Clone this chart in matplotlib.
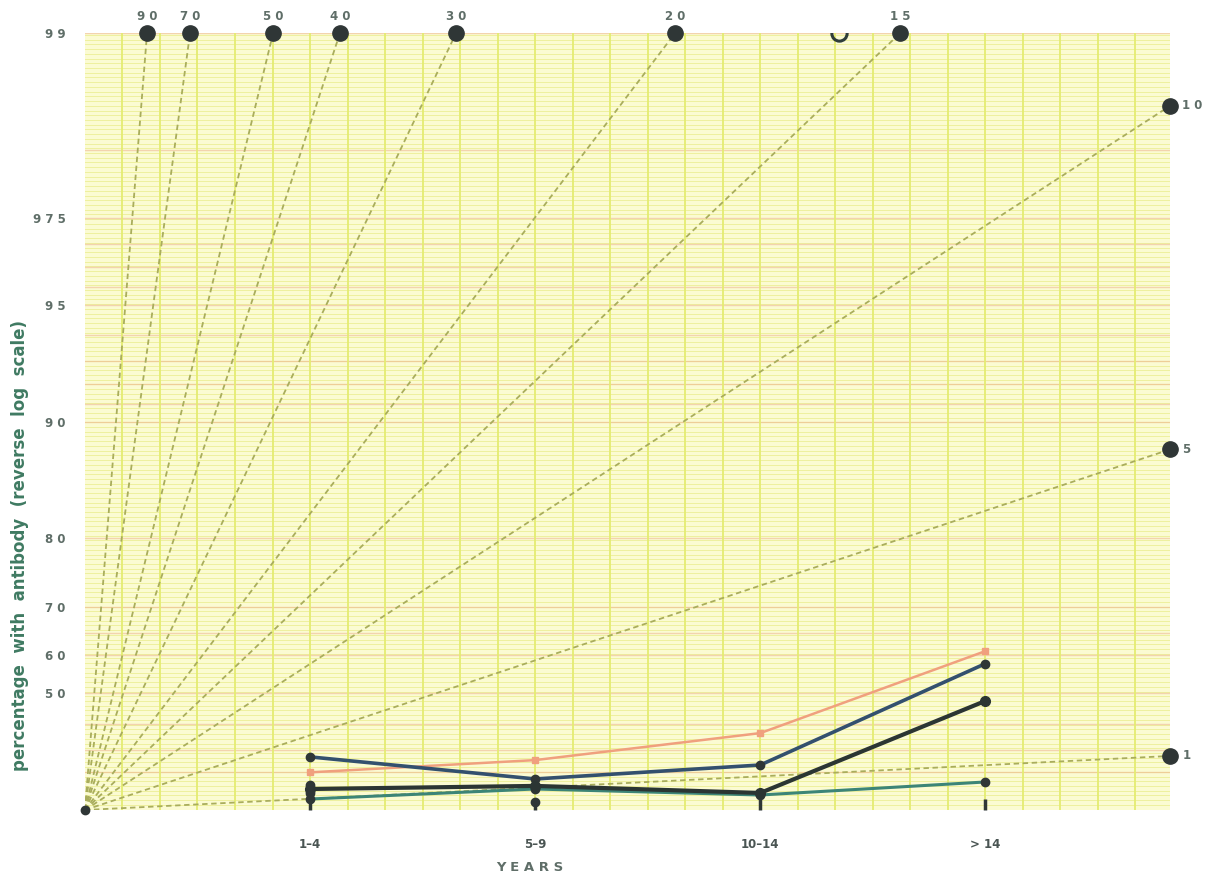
import numpy as np
import matplotlib
matplotlib.use("Agg")
import matplotlib.pyplot as plt

# ---- data (y in percent with antibody) ----
age_groups = ["1\u20134", "5\u20139", "10\u201314", "> 14"]
age_pos = [1, 2, 3, 4]

blue_pct = [27.0, 16.8, 23.4, 58.0]
orange_pct = [20.0, 25.6, 36.6, 61.0]
black_pct = [11.7, 13.3, 9.6, 47.6]
teal_pct = [6.3, 11.7, 8.5, 15.3]

# stray points without a line
extra_x = [1, 1, 2]
extra_pct = [13.8, 9.5, 4.6]

# reference lines of constant annual rate (end points)
top_rates = ["9 0", "7 0", "5 0", "4 0", "3 0", "2 0", "1 5"]
top_end_x = [0.276, 0.467, 0.836, 1.133, 1.649, 2.622, 3.622]
right_rates = ["1 0", "5", "1"]
right_end_pct = [98.46, 88.2, 27.4]

ytick_pct = [50, 60, 70, 80, 90, 95, 97, 99]
ytick_lab = ["5 0", "6 0", "7 0", "8 0", "9 0", "9 5", "9 7 5", "9 9"]
salmon_pct = [20, 30, 40, 50, 60, 65, 70, 80, 90, 91, 92, 93, 94, 95, 95.5, 96, 96.5, 97, 98, 99]

X_MAX = 4.82
Y_TOP = 99


def fwd(p):
    p = np.clip(np.asarray(p, dtype=float), -50, 99.99)
    return -np.log(1 - p / 100.0)


def inv(v):
    return 100.0 * (1 - np.exp(-np.asarray(v, dtype=float)))


fig = plt.figure(figsize=(12.1, 8.81), dpi=100)
ax = fig.add_axes([0.0702, 0.0806, 0.8967, 0.8819])
ax.set_yscale("function", functions=(fwd, inv))
ax.set_xlim(0, X_MAX)
ax.set_ylim(0, Y_TOP)
ax.set_facecolor("#fbfbd2")

# graph paper: dense horizontal lines, vertical lines, salmon lines
for v in np.arange(0.03, fwd(Y_TOP), 0.028):
    ax.axhline(inv(v), color="#eef09e", lw=0.7, zorder=0)
for p in salmon_pct:
    ax.axhline(p, color="#eeb392", lw=1.0, alpha=0.55, zorder=0)
for xv in np.arange(1 / 6, X_MAX, 1 / 6):
    ax.axvline(xv, color="#e4ec72", lw=1.3, zorder=0)

# rate lines
rate_col = "#a9ad5c"
for lab, xe in zip(top_rates, top_end_x):
    ax.plot([0, xe], [0, Y_TOP], color=rate_col, lw=1.3, ls=(0, (3, 2)), zorder=1)
    ax.plot(xe, Y_TOP, "o", ms=11, color="#2f3636", clip_on=False, zorder=5)
    ax.annotate(lab, (xe, Y_TOP), xytext=(0, 7), textcoords="offset points",
                ha="center", va="bottom", fontsize=8.5, fontweight="bold", color="#5f6e68")
for lab, pe in zip(right_rates, right_end_pct):
    ax.plot([0, X_MAX], [0, pe], color=rate_col, lw=1.3, ls=(0, (3, 2)), zorder=1)
    ax.plot(X_MAX, pe, "o", ms=11, color="#2f3636", clip_on=False, zorder=5)
    ax.annotate(lab, (X_MAX, pe), xytext=(9, 0), textcoords="offset points",
                ha="left", va="center", fontsize=8.5, fontweight="bold", color="#5f6e68")
ax.plot(0, 0, "o", ms=6, color="#2f3636", clip_on=False, zorder=5)
# half-hidden open circle on the top edge
ax.plot(3.35, Y_TOP, "o", ms=11, mfc="none", mec="#2f3e3a", mew=2.2, zorder=5)

# data series
ax.plot(age_pos, orange_pct, "-s", color="#f0a07e", lw=1.8, ms=4, zorder=3)
ax.plot(age_pos, blue_pct, "-o", color="#33506e", lw=2.6, ms=6, mfc="#2f3636", mec="#2f3636", zorder=4)
ax.plot(age_pos, teal_pct, "-o", color="#3c8577", lw=2.2, ms=6, mfc="#2f3636", mec="#2f3636", zorder=4)
ax.plot(age_pos, black_pct, "-o", color="#2b3533", lw=3.0, ms=7, zorder=4)
ax.plot(extra_x, extra_pct, "o", color="#2f3636", ms=6, zorder=4, ls="none")

# axes decoration
for s in ax.spines.values():
    s.set_visible(False)
ax.set_xticks(age_pos)
ax.set_xticklabels(age_groups, fontsize=8.5, fontweight="bold", color="#4a5553")
ax.tick_params(axis="x", direction="in", length=8, width=2.5, color="#2f3636", pad=20)
ax.set_yticks(ytick_pct)
ax.set_yticks([], minor=True)
ax.set_yticklabels(ytick_lab, fontsize=8.5, fontweight="bold", color="#5f6e68")
ax.tick_params(axis="y", length=0, pad=14)
ax.set_xlabel("Y E A R S", fontsize=9.5, fontweight="bold", color="#5f6e68")
ax.set_ylabel("percentage  with  antibody  (reverse  log  scale)", fontsize=12,
              fontweight="bold", color="#3f7a62")
ax.yaxis.set_label_coords(-0.052, 0.34)
ax.xaxis.set_label_coords(0.41, -0.066)

fig.savefig("out.png", dpi=100, facecolor="white")
